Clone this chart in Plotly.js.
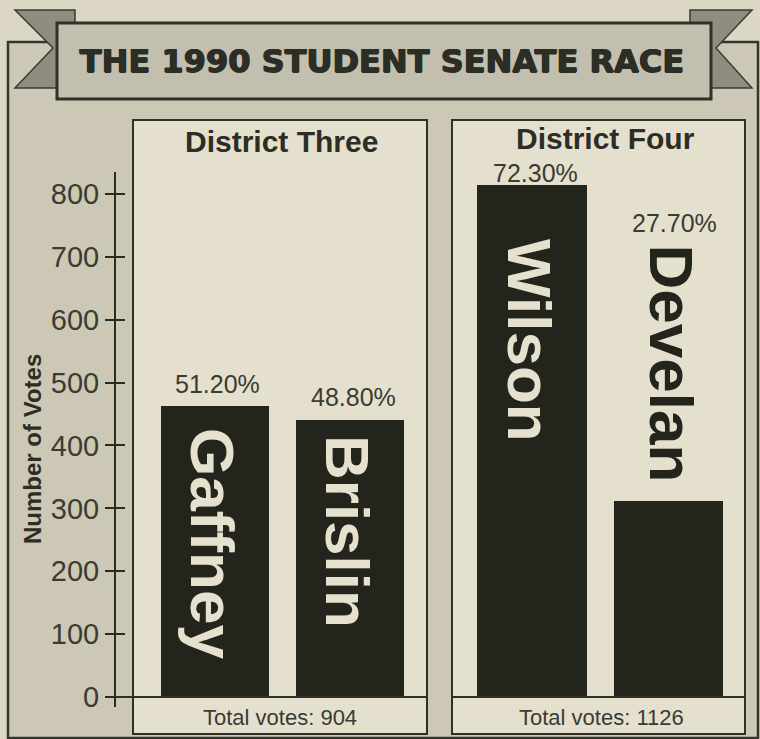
<!DOCTYPE html>
<html>
<head>
<meta charset="utf-8">
<script src="https://cdn.plot.ly/plotly-3.0.1.min.js"></script>
<style>html,body{margin:0;padding:0;background:#dcd7c4;}#chart{width:760px;height:739px;}</style>
</head>
<body>
<div id="chart"></div>
<script>
// ---- data ----
const chartTitle = 'THE 1990 STUDENT SENATE RACE';
const districtNames = ['District Three', 'District Four'];
const candidatesD3 = ['Gaffney', 'Brislin'];
const votesD3 = [463, 441];
const pctD3 = [51.2, 48.8];
const candidatesD4 = ['Wilson', 'Develan'];
const votesD4 = [814, 312];
const pctD4 = [72.3, 27.7];
const totalVotes = [904, 1126];
const yTickVals = [0, 100, 200, 300, 400, 500, 600, 700, 800];
const yAxisTitle = 'Number of Votes';

// ---- helpers (pixel -> paper) ----
const W = 760, H = 739;
const px = x => x / W;
const py = y => 1 - y / H;
const poly = pts => 'M ' + pts.map(p => px(p[0]).toFixed(5) + ' ' + py(p[1]).toFixed(5)).join(' L ') + ' Z';

const INK = '#2c2e26';
const TXT = '#3a3b33';
const BAR = '#23251c';
const FONT = 'Liberation Sans, Arial, Helvetica, sans-serif';

const yRange = [-15.8, 834.8];

const traces = [
  {type: 'bar', x: candidatesD3, y: votesD3, xaxis: 'x', yaxis: 'y', width: 0.793,
   marker: {color: BAR, line: {width: 0}}, hoverinfo: 'x+y'},
  {type: 'bar', x: candidatesD4, y: votesD4, xaxis: 'x2', yaxis: 'y', width: 0.80,
   marker: {color: BAR, line: {width: 0}}, hoverinfo: 'x+y'},
  {type: 'scatter', x: [], y: [], xaxis: 'x', yaxis: 'y2', hoverinfo: 'skip', showlegend: false}
];

const shapes = [
  // outer frame
  {type: 'rect', xref: 'paper', yref: 'paper', x0: px(8), x1: px(758), y0: py(738), y1: py(42),
   fillcolor: '#cdc8b5', line: {color: '#34352d', width: 2.5}, layer: 'below'},
  // ribbon tails
  {type: 'path', xref: 'paper', yref: 'paper', path: poly([[15, 10], [75, 10], [75, 88], [15, 88], [53, 48]]),
   fillcolor: '#8f8d80', line: {color: '#3a3b32', width: 1.5}, layer: 'below'},
  {type: 'path', xref: 'paper', yref: 'paper', path: poly([[752, 10], [690, 10], [690, 88], [752, 88], [716, 48]]),
   fillcolor: '#8f8d80', line: {color: '#3a3b32', width: 1.5}, layer: 'below'},
  // banner
  {type: 'rect', xref: 'paper', yref: 'paper', x0: px(57), x1: px(711), y0: py(99), y1: py(23),
   fillcolor: '#c3bfae', line: {color: '#2f3129', width: 3}, layer: 'below'},
  // panels
  {type: 'rect', xref: 'paper', yref: 'paper', x0: px(133), x1: px(427), y0: py(734), y1: py(120),
   fillcolor: '#e5e0ce', line: {color: '#2f3028', width: 2}, layer: 'below'},
  {type: 'rect', xref: 'paper', yref: 'paper', x0: px(452), x1: px(745), y0: py(734), y1: py(120),
   fillcolor: '#e5e0ce', line: {color: '#2f3028', width: 2}, layer: 'below'},
  // zero lines / total-votes separators
  {type: 'line', xref: 'paper', yref: 'y', x0: px(115), x1: px(427), y0: 0, y1: 0,
   line: {color: '#2f3028', width: 2}},
  {type: 'line', xref: 'paper', yref: 'y', x0: px(452), x1: px(745), y0: 0, y1: 0,
   line: {color: '#2f3028', width: 2}}
];

const annotations = [];
// panel titles
annotations.push({xref: 'paper', yref: 'paper', x: px(281), y: py(141), text: '<b>' + districtNames[0] + '</b>',
  showarrow: false, xanchor: 'center', yanchor: 'middle', font: {family: FONT, size: 30, color: INK}});
annotations.push({xref: 'paper', yref: 'paper', x: px(605), y: py(139), text: '<b>' + districtNames[1] + '</b>',
  showarrow: false, xanchor: 'center', yanchor: 'middle', font: {family: FONT, size: 30, color: INK}});
// totals
annotations.push({xref: 'paper', yref: 'paper', x: px(280), y: py(717), text: 'Total votes: ' + totalVotes[0],
  showarrow: false, xanchor: 'center', yanchor: 'middle', font: {family: FONT, size: 22, color: TXT}});
annotations.push({xref: 'paper', yref: 'paper', x: px(601), y: py(717), text: 'Total votes: ' + totalVotes[1],
  showarrow: false, xanchor: 'center', yanchor: 'middle', font: {family: FONT, size: 22, color: TXT}});
// y axis title
annotations.push({xref: 'paper', yref: 'paper', x: px(32), y: py(449), text: '<b>' + yAxisTitle + '</b>',
  textangle: -90, showarrow: false, xanchor: 'center', yanchor: 'middle', font: {family: FONT, size: 24, color: INK}});

// percentage labels
const pctFmt = v => v.toFixed(2) + '%';
const pctShift = {Gaffney: 22, Brislin: 23, Wilson: 12};
[[candidatesD3, votesD3, pctD3, 'x'], [candidatesD4, votesD4, pctD4, 'x2']].forEach(([cats, vals, pcts, xr]) => {
  cats.forEach((c, i) => {
    const outsideName = (xr === 'x2' && i === 1);
    if (outsideName) {
      annotations.push({xref: xr, yref: 'paper', x: c, y: py(223), text: pctFmt(pcts[i]), showarrow: false,
        xanchor: 'center', yanchor: 'middle', xshift: 6, font: {family: FONT, size: 25, color: TXT}});
    } else {
      annotations.push({xref: xr, yref: 'y', x: c, y: vals[i], text: pctFmt(pcts[i]), showarrow: false,
        xanchor: 'center', yanchor: 'middle', yshift: pctShift[c], xshift: 3, font: {family: FONT, size: 25, color: TXT}});
    }
  });
});

// candidate names, rotated
const nameCenters = {Gaffney: 544, Brislin: 531, Wilson: 340, Develan: 363};
[[candidatesD3, 'x'], [candidatesD4, 'x2']].forEach(([cats, xr]) => {
  cats.forEach((c, i) => {
    const dark = (xr === 'x2' && i === 1);
    annotations.push({xref: xr, yref: 'paper', x: c, y: py(nameCenters[c]), text: '<b>' + c + '</b>',
      textangle: 90, showarrow: false, xanchor: 'center', yanchor: 'middle', xshift: dark ? 3 : -2,
      font: {family: FONT, size: 62, color: dark ? BAR : '#e6e1ce'}});
  });
});

const layout = {
  width: W, height: H,
  margin: {l: 0, r: 0, t: 0, b: 0, pad: 0},
  paper_bgcolor: '#dcd7c4',
  plot_bgcolor: 'rgba(0,0,0,0)',
  showlegend: false,
  bargap: 0,
  title: {text: '<b>' + chartTitle + '</b>', x: px(382), y: py(61), xref: 'paper', yref: 'paper',
    xanchor: 'center', yanchor: 'middle',
    font: {family: 'DejaVu Sans, sans-serif', size: 32, color: INK,
      shadow: '0.7px 0 0 #2c2e26, -0.7px 0 0 #2c2e26, 0 0.7px 0 #2c2e26'}},
  xaxis: {domain: [px(133), px(427)], range: [-0.607, 1.570], type: 'category', visible: false, anchor: 'y', fixedrange: true},
  xaxis2: {domain: [px(452), px(745)], range: [-0.586, 1.560], type: 'category', visible: false, anchor: 'y', fixedrange: true},
  yaxis: {domain: [py(707), py(172)], range: yRange, anchor: 'free', position: px(115), side: 'left',
    showline: true, linecolor: '#2a2b23', linewidth: 2, ticks: 'outside', ticklen: 9, tickwidth: 2, tickcolor: '#2a2b23',
    tickmode: 'array', tickvals: yTickVals, ticktext: yTickVals.map(String), ticklabelstandoff: 0,
    tickfont: {family: FONT, size: 29, color: TXT}, showgrid: false, zeroline: false, fixedrange: true},
  yaxis2: {overlaying: 'y', range: yRange, anchor: 'free', position: px(115), side: 'left',
    showline: false, ticks: 'inside', ticklen: 9, tickwidth: 2, tickcolor: '#2a2b23',
    tickmode: 'array', tickvals: yTickVals, showticklabels: false, showgrid: false, zeroline: false, fixedrange: true},
  shapes: shapes,
  annotations: annotations
};

Plotly.newPlot('chart', traces, layout, {displayModeBar: false, staticPlot: true});
</script>
</body>
</html>
